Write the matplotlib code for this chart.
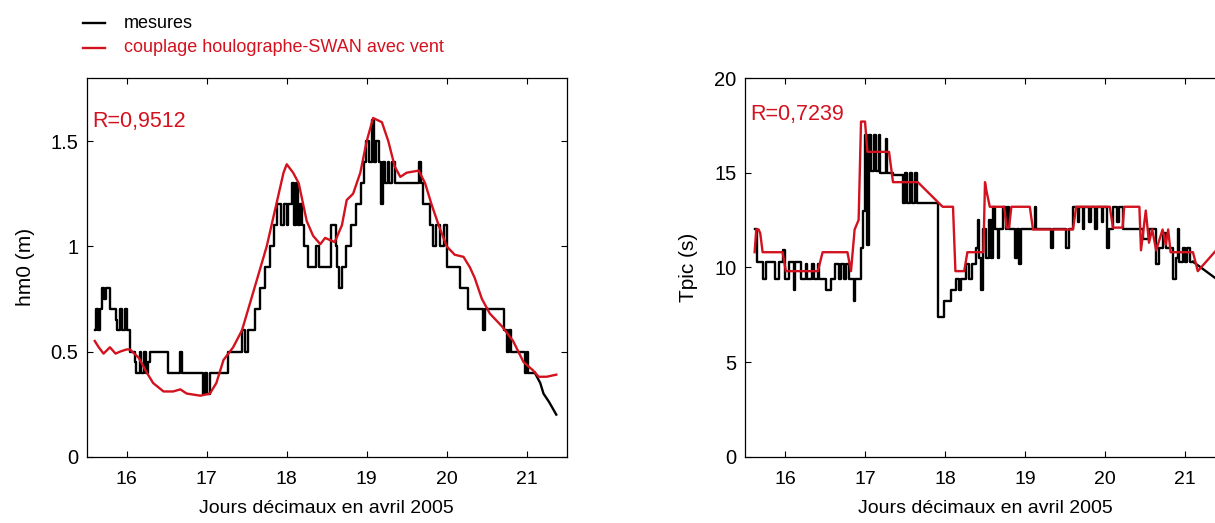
import matplotlib
matplotlib.use("Agg")
import matplotlib.pyplot as plt
from matplotlib.lines import Line2D

plt.rcParams['font.family'] = ['Liberation Sans', 'DejaVu Sans']

RED = "#d3121f"

# Left panel: significant wave height hm0 (m), measured (step-like) vs model
hm0_days = [15.60, 15.62, 15.64, 15.66, 15.69, 15.72, 15.74, 15.79, 15.81, 15.86, 15.88,
            15.92, 15.94, 15.98, 16.00, 16.04, 16.06, 16.10, 16.12, 16.16, 16.18,
            16.22, 16.24, 16.27, 16.29, 16.49, 16.51, 16.66, 16.67, 16.69, 16.71,
            16.93, 16.95, 16.98, 17.00, 17.04, 17.08, 17.25, 17.27, 17.40, 17.44,
            17.48, 17.51, 17.54, 17.60, 17.66, 17.73, 17.79, 17.84, 17.88, 17.93,
            17.96, 18.00, 18.02, 18.06, 18.09, 18.11, 18.14, 18.16, 18.19, 18.22,
            18.26, 18.34, 18.36, 18.40, 18.50, 18.55, 18.58, 18.61, 18.63, 18.65,
            18.69, 18.74, 18.80, 18.87, 18.93, 18.96, 18.99, 19.03, 19.06, 19.09,
            19.12, 19.15, 19.18, 19.20, 19.23, 19.26, 19.28, 19.31, 19.35, 19.46,
            19.65, 19.68, 19.71, 19.79, 19.83, 19.87, 19.92, 19.97, 20.00, 20.10,
            20.17, 20.27, 20.43, 20.45, 20.48, 20.70, 20.72, 20.75, 20.78, 20.81,
            20.84, 20.96, 20.98, 21.00, 21.02, 21.10]
hm0_mes = [0.6, 0.7, 0.6, 0.7, 0.8, 0.75, 0.8, 0.7, 0.7, 0.65, 0.6,
           0.7, 0.6, 0.7, 0.6, 0.5, 0.5, 0.45, 0.4, 0.5, 0.4,
           0.5, 0.4, 0.45, 0.5, 0.5, 0.4, 0.4, 0.5, 0.4, 0.4,
           0.4, 0.3, 0.4, 0.3, 0.4, 0.4, 0.4, 0.5, 0.5, 0.6,
           0.5, 0.6, 0.6, 0.7, 0.8, 0.9, 1.0, 1.1, 1.2, 1.1,
           1.2, 1.1, 1.2, 1.3, 1.1, 1.3, 1.1, 1.2, 1.1, 1.0,
           0.9, 0.9, 1.0, 0.9, 0.9, 1.1, 1.1, 1.0, 0.9, 0.8,
           0.9, 1.0, 1.1, 1.2, 1.3, 1.4, 1.5, 1.4, 1.6, 1.4,
           1.5, 1.4, 1.2, 1.4, 1.3, 1.4, 1.3, 1.4, 1.3, 1.3,
           1.4, 1.3, 1.2, 1.1, 1.0, 1.1, 1.0, 1.1, 0.9, 0.9,
           0.8, 0.7, 0.7, 0.6, 0.7, 0.7, 0.6, 0.5, 0.6, 0.5,
           0.5, 0.5, 0.4, 0.5, 0.4, 0.4]
# end of the record: linear decay
hm0_tail_days = [21.10, 21.17, 21.21, 21.28, 21.37]
hm0_tail = [0.4, 0.35, 0.3, 0.26, 0.2]

hm0_mod_days = [15.60, 15.65, 15.71, 15.79, 15.86, 15.92, 16.00, 16.04, 16.15, 16.25,
                16.33, 16.46, 16.58, 16.67, 16.75, 16.92, 17.04, 17.12, 17.21, 17.33,
                17.44, 17.58, 17.75, 17.87, 17.96, 18.00, 18.08, 18.15, 18.25, 18.33,
                18.42, 18.48, 18.60, 18.69, 18.75, 18.83, 18.92, 19.00, 19.08, 19.19,
                19.27, 19.35, 19.42, 19.50, 19.65, 19.73, 19.81, 19.90, 20.00, 20.10,
                20.21, 20.29, 20.35, 20.44, 20.54, 20.69, 20.83, 20.96, 21.08, 21.15,
                21.25, 21.37]
hm0_mod = [0.55, 0.52, 0.49, 0.52, 0.49, 0.50, 0.51, 0.51, 0.47, 0.40,
           0.35, 0.31, 0.31, 0.32, 0.30, 0.29, 0.30, 0.35, 0.46, 0.52,
           0.60, 0.78, 1.00, 1.20, 1.35, 1.39, 1.35, 1.30, 1.12, 1.05,
           1.01, 1.04, 1.02, 1.10, 1.22, 1.25, 1.35, 1.50, 1.61, 1.59,
           1.50, 1.38, 1.33, 1.35, 1.36, 1.30, 1.20, 1.10, 1.00, 0.96,
           0.95, 0.90, 0.85, 0.75, 0.68, 0.62, 0.55, 0.45, 0.41, 0.38,
           0.38, 0.39]

# Right panel: peak period Tpic (s)
tp_days = [15.62, 15.65, 15.72, 15.76, 15.87, 15.93, 15.98, 16.00, 16.05, 16.11,
           16.13, 16.20, 16.26, 16.28, 16.34, 16.36, 16.41, 16.43, 16.51, 16.57,
           16.62, 16.68, 16.70, 16.74, 16.76, 16.80, 16.86, 16.88, 16.95, 16.97,
           17.00, 17.03, 17.05, 17.08, 17.11, 17.14, 17.17, 17.19, 17.26, 17.28,
           17.35, 17.47, 17.50, 17.53, 17.56, 17.59, 17.62, 17.65, 17.91, 17.99,
           18.07, 18.14, 18.18, 18.20, 18.26, 18.30, 18.34, 18.39, 18.41, 18.43,
           18.45, 18.47, 18.51, 18.55, 18.57, 18.60, 18.62, 18.66, 18.68, 18.72,
           18.76, 18.78, 18.80, 18.87, 18.90, 18.93, 18.95, 19.12, 19.14, 19.33,
           19.35, 19.51, 19.55, 19.60, 19.66, 19.68, 19.72, 19.74, 19.80, 19.82,
           19.88, 19.90, 19.96, 19.98, 20.03, 20.05, 20.10, 20.15, 20.17, 20.22,
           20.47, 20.55, 20.64, 20.68, 20.72, 20.76, 20.85, 20.89, 20.91, 20.93,
           20.97, 21.00, 21.03, 21.06, 21.10]
tp_mes = [12.0, 10.3, 9.4, 10.3, 9.4, 10.3, 10.9, 9.4, 10.3, 8.8,
          10.3, 9.4, 10.2, 9.4, 10.2, 9.4, 10.2, 9.4, 8.8, 9.4,
          10.2, 9.4, 10.2, 9.4, 10.2, 9.4, 8.2, 9.4, 11.0, 13.0,
          17.0, 11.2, 17.0, 15.1, 17.0, 15.1, 17.0, 15.0, 16.8, 15.0,
          14.9, 13.4, 15.0, 13.4, 15.0, 13.4, 15.0, 13.4, 7.4, 8.2,
          8.8, 9.4, 8.8, 9.4, 10.2, 9.4, 10.2, 11.0, 12.5, 10.5,
          8.8, 12.0, 10.5, 12.5, 10.5, 13.2, 12.0, 10.5, 12.0, 13.2,
          12.0, 13.2, 12.0, 10.5, 12.0, 10.2, 12.0, 13.2, 12.0, 11.0,
          12.0, 11.0, 12.0, 13.2, 12.4, 13.2, 12.0, 13.2, 12.4, 13.2,
          12.0, 13.2, 12.4, 13.2, 11.0, 12.0, 13.2, 12.4, 13.2, 12.0,
          11.5, 12.0, 10.2, 11.0, 11.8, 11.0, 9.4, 10.5, 12.0, 10.3,
          11.0, 10.3, 11.0, 10.3, 10.3]
tp_tail_days = [21.10, 21.39, 21.50]
tp_tail = [10.3, 9.4, 9.0]

tp_mod_days = [15.62, 15.64, 15.67, 15.69, 15.72, 15.97, 16.01, 16.41, 16.47, 16.78,
               16.825, 16.87, 16.92, 16.95, 17.00, 17.03, 17.30, 17.35, 17.66, 17.97,
               18.10, 18.13, 18.24, 18.28, 18.48, 18.50, 18.52, 18.56, 18.74, 18.77,
               18.80, 18.83, 19.06, 19.10, 19.60, 19.64, 20.06, 20.10, 20.22, 20.24,
               20.43, 20.45, 20.51, 20.55, 20.59, 20.64, 20.72, 20.76, 20.79, 20.82,
               21.10, 21.16, 21.39, 21.50]
tp_mod = [10.8, 12.0, 12.0, 11.8, 10.8, 10.8, 9.8, 9.8, 10.8, 10.8,
          9.8, 12.0, 12.5, 17.7, 17.7, 16.1, 16.1, 14.5, 14.5, 13.2,
          13.2, 9.8, 9.8, 10.8, 10.8, 14.5, 14.0, 13.2, 13.2, 12.1,
          12.1, 13.2, 13.2, 12.0, 12.0, 13.2, 13.2, 12.1, 12.1, 13.2,
          13.2, 10.9, 13.0, 11.3, 12.0, 10.9, 12.0, 11.2, 12.0, 10.8,
          10.8, 9.8, 10.9, 11.4]

fig = plt.figure(figsize=(12.15, 5.23), dpi=100)

ax1 = fig.add_axes([0.0714, 0.1268, 0.395, 0.724])
ax2 = fig.add_axes([0.6132, 0.1268, 0.395, 0.724])

ax1.step(hm0_days, hm0_mes, where='post', color='black', lw=1.7)
ax1.plot(hm0_tail_days, hm0_tail, color='black', lw=1.7)
ax1.plot(hm0_mod_days, hm0_mod, color=RED, lw=1.7)
ax1.set_xlim(15.5, 21.5)
ax1.set_ylim(0, 1.8)
ax1.set_yticks([0, 0.5, 1, 1.5])
ax1.set_yticklabels(['0', '0.5', '1', '1.5'])
ax1.set_ylabel("hm0 (m)", fontsize=15, labelpad=11)
ax1.text(0.011, 0.885, "R=0,9512", color=RED, fontsize=15.5,
         transform=ax1.transAxes, va='center', ha='left')

ax2.step(tp_days, tp_mes, where='post', color='black', lw=1.7)
ax2.plot(tp_tail_days, tp_tail, color='black', lw=1.7)
ax2.plot(tp_mod_days, tp_mod, color=RED, lw=1.7)
ax2.set_xlim(15.5, 21.5)
ax2.set_ylim(0, 20)
ax2.set_yticks([0, 5, 10, 15, 20])
ax2.set_ylabel("Tpic (s)", fontsize=15, labelpad=12)
ax2.text(0.01, 0.903, "R=0,7239", color=RED, fontsize=15.5,
         transform=ax2.transAxes, va='center', ha='left')

for ax in (ax1, ax2):
    ax.set_xticks([16, 17, 18, 19, 20, 21])
    ax.tick_params(direction='in', top=True, right=True, length=4, width=0.8)
    ax.tick_params(axis='x', labelsize=14, pad=10)
    ax.tick_params(axis='y', labelsize=14.5, pad=6)
    ax.set_xlabel("Jours décimaux en avril 2005", fontsize=14, labelpad=9)
    for s in ax.spines.values():
        s.set_linewidth(0.9)

# Legend drawn at the top-left of the figure
fig.add_artist(Line2D([83 / 1215, 105 / 1215], [1 - 23 / 523, 1 - 23 / 523],
                      color='black', lw=1.7))
fig.add_artist(Line2D([83 / 1215, 105 / 1215], [1 - 48 / 523, 1 - 48 / 523],
                      color=RED, lw=1.7))
fig.text(124 / 1215, 1 - 23 / 523, "mesures", fontsize=13, va='center', ha='left')
fig.text(124 / 1215, 1 - 48 / 523, "couplage houlographe-SWAN avec vent",
         fontsize=13, va='center', ha='left', color=RED)

plt.savefig("out.png", dpi=100)
